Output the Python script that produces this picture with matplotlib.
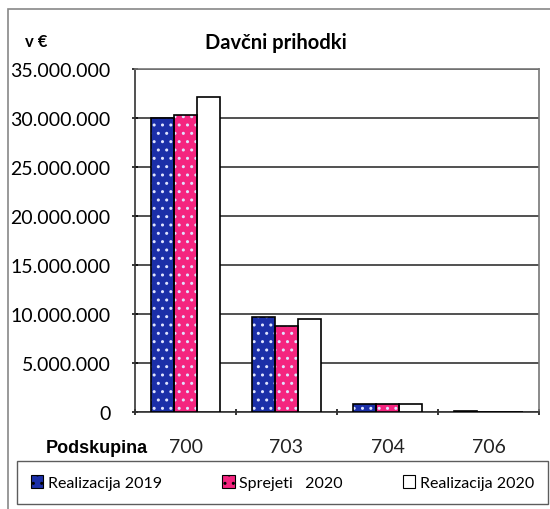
import numpy as np
import matplotlib.pyplot as plt
from matplotlib.patches import Patch, Rectangle
from matplotlib.ticker import FuncFormatter

plt.rcParams['font.family'] = ['Lato', 'DejaVu Sans']

categories = ['700', '703', '704', '706']
series_names = ['Realizacija 2019', 'Sprejeti   2020', 'Realizacija 2020']
real_2019 = [29950000, 9700000, 780000, 90000]
sprejeti_2020 = [30350000, 8800000, 770000, 50000]
real_2020 = [32150000, 9500000, 780000, 40000]

colors = ['#1b2fa8', '#f4257f', '#ffffff']
hatches = ['..', '..', '']

fig = plt.figure(figsize=(5.5, 5.1), dpi=100)
# outer chart frame; only its left and top edges fall inside the image
fig.patches.append(Rectangle((8 / 550, -0.05), 1.0, 1 - 10 / 510 + 0.05, transform=fig.transFigure,
                             fill=False, edgecolor='#888888', linewidth=1.2))

ax = fig.add_axes([135 / 550, 1 - 413 / 510, 404 / 550, 343 / 510])
x = np.arange(len(categories))
w = 0.225
for i, (vals, col, h) in enumerate(zip([real_2019, sprejeti_2020, real_2020], colors, hatches)):
    pos = x + (i - 1) * w
    if h:
        ax.bar(pos, vals, w, color=col, hatch=h, edgecolor='#dfe4ff', linewidth=0, zorder=3)
        ax.bar(pos, vals, w, fill=False, edgecolor='black', linewidth=1.2, zorder=4)
    else:
        ax.bar(pos, vals, w, color=col, edgecolor='black', linewidth=1.2, zorder=3)

ax.set_xlim(-0.5, len(categories) - 0.5)
ax.set_ylim(0, 35000000)
ax.set_yticks(np.arange(0, 35000001, 5000000))
ax.yaxis.set_major_formatter(FuncFormatter(lambda v, p: f'{int(v):,}'.replace(',', '.')))
ax.grid(axis='y', color='#333333', linewidth=1.2, zorder=0)
ax.set_xticks(x)
ax.set_xticklabels(categories)
ax.set_xticks(np.arange(-0.5, len(categories), 1), minor=True)
ax.tick_params(axis='x', which='major', length=0, labelsize=14, pad=19, colors='#222222')
ax.tick_params(axis='x', which='minor', length=5, direction='inout', width=1.1)
ax.tick_params(axis='y', labelsize=14, length=5, direction='inout', width=1.1, pad=15)
for s in ax.spines.values():
    s.set_color('#333333')
    s.set_linewidth(1.2)
ax.spines['right'].set_color('#777777')
ax.spines['top'].set_color('#777777')

fig.text(276 / 550, 1 - 43 / 510, 'Davčni prihodki', ha='center', va='center',
         fontsize=14.5, fontweight='bold')
fig.text(25 / 550, 1 - 42 / 510, 'v €', ha='left', va='center', fontsize=12, fontweight='bold')
fig.text(148 / 550, 1 - 449 / 510, 'Podskupina', ha='right', va='center', fontsize=13,
         fontweight='bold', family=['Liberation Sans', 'DejaVu Sans'])

handles = [
    Patch(facecolor=colors[0], hatch='..', edgecolor='black', linewidth=0.8),
    Patch(facecolor=colors[1], hatch='..', edgecolor='black', linewidth=0.8),
    Patch(facecolor=colors[2], edgecolor='black', linewidth=0.8),
]
leg = fig.legend(handles, series_names, loc='center', ncol=3, mode='expand',
                 bbox_to_anchor=(17 / 550, 1 - 504 / 510, 531 / 550, 41 / 510),
                 frameon=True, fancybox=False, edgecolor='#333333', fontsize=11.5,
                 handlelength=0.8, handleheight=0.9, handletextpad=0.3,
                 borderpad=0.85, borderaxespad=0)
leg.get_frame().set_linewidth(1.0)

fig.savefig('out.png', dpi=100)
